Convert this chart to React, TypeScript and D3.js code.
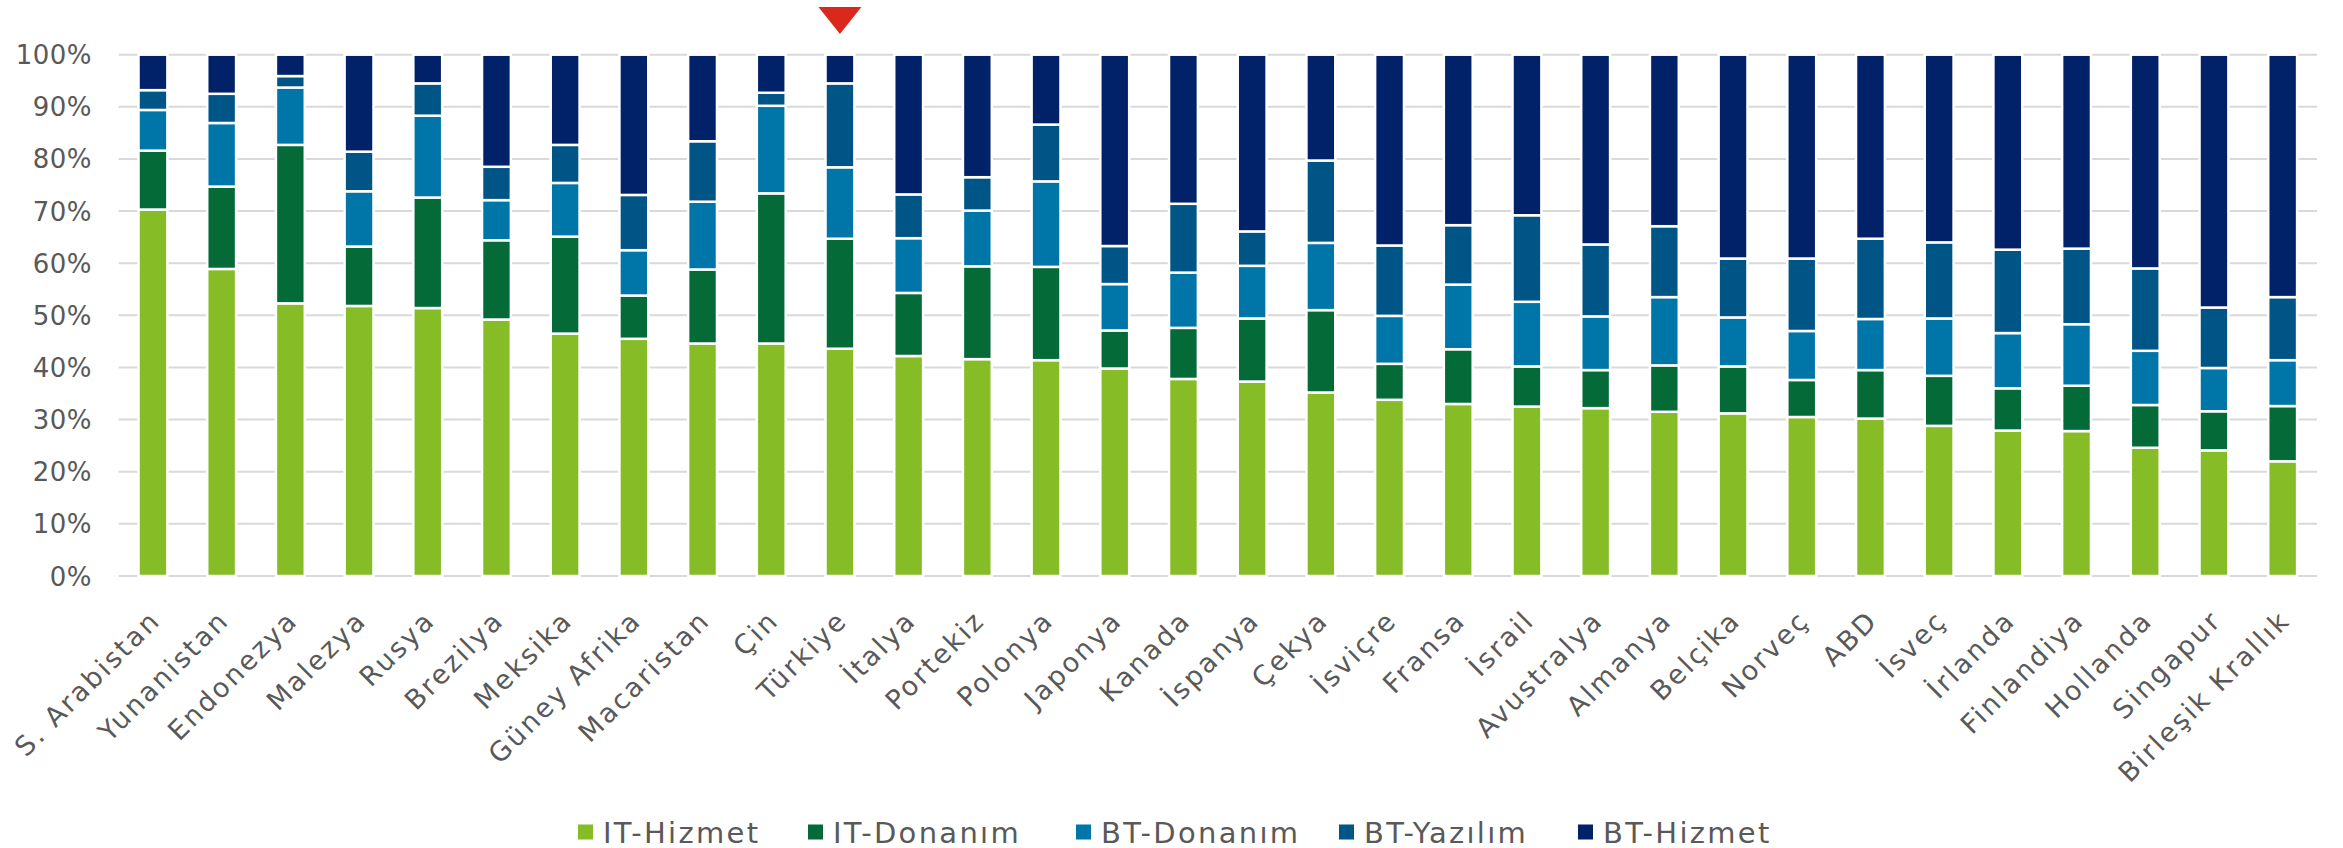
import React from "react";
import * as d3 from "d3";

// ülkeler (soldan sağa)
const countries = [
  "S. Arabistan", "Yunanistan", "Endonezya", "Malezya", "Rusya", "Brezilya",
  "Meksika", "Güney Afrika", "Macaristan", "Çin", "Türkiye", "İtalya",
  "Portekiz", "Polonya", "Japonya", "Kanada", "İspanya", "Çekya", "İsviçre",
  "Fransa", "İsrail", "Avustralya", "Almanya", "Belçika", "Norveç", "ABD",
  "İsveç", "İrlanda", "Finlandiya", "Hollanda", "Singapur", "Birleşik Krallık",
];

// segment payları (%)
const itHizmet = [70.3, 58.9, 52.3, 51.8, 51.4, 49.2, 46.5, 45.5, 44.6, 44.6, 43.6, 42.2, 41.6, 41.4, 39.8, 37.8, 37.3, 35.2, 33.8, 33.0, 32.5, 32.2, 31.5, 31.2, 30.5, 30.2, 28.8, 27.9, 27.8, 24.6, 24.1, 22.0];
const itDonanim = [11.3, 15.8, 30.4, 11.4, 21.2, 15.2, 18.6, 8.3, 14.2, 28.8, 21.1, 12.1, 17.8, 17.9, 7.3, 9.8, 12.1, 15.8, 6.9, 10.5, 7.7, 7.3, 8.9, 9.0, 7.1, 9.3, 9.6, 8.1, 8.7, 8.2, 7.5, 10.6];
const btDonanim = [7.8, 12.2, 11.0, 10.6, 15.7, 7.7, 10.3, 8.7, 13.0, 16.8, 13.7, 10.5, 10.7, 16.4, 8.9, 10.6, 10.1, 12.9, 9.2, 12.4, 12.4, 10.3, 13.1, 9.4, 9.4, 9.8, 11.0, 10.6, 11.8, 10.4, 8.3, 8.8];
const btYazilim = [3.8, 5.6, 2.2, 7.6, 6.2, 6.4, 7.3, 10.6, 11.6, 2.5, 16.1, 8.4, 6.4, 10.9, 7.3, 13.2, 6.6, 15.8, 13.5, 11.4, 16.6, 13.8, 13.6, 11.3, 13.9, 15.4, 14.6, 16.0, 14.5, 15.8, 11.6, 12.1];
const btHizmet = [6.8, 7.5, 4.1, 18.6, 5.5, 21.5, 17.3, 26.9, 16.6, 7.3, 5.5, 26.8, 23.5, 13.4, 36.7, 28.6, 33.9, 20.3, 36.6, 32.7, 30.8, 36.4, 32.9, 39.1, 39.1, 35.3, 36.0, 37.4, 37.2, 41.0, 48.5, 46.5];

const seriesNames = ["IT-Hizmet", "IT-Donanım", "BT-Donanım", "BT-Yazılım", "BT-Hizmet"];
const seriesValues = [itHizmet, itDonanim, btDonanim, btYazilim, btHizmet];
const seriesColors = ["#86bc25", "#046a38", "#0076a8", "#005587", "#012169"];
const yTicks = [0, 0.1, 0.2, 0.3, 0.4, 0.5, 0.6, 0.7, 0.8, 0.9, 1];
const highlighted = "Türkiye";

const W = 2343;
const H = 848;
const left = 118.6;
const right = 2317;
const top = 54.7;
const bottom = 576;
const font = "'DejaVu Sans', Verdana, sans-serif";
const textColor = "#595959";
// lejant kutularının x konumu
const legendX = [578, 808, 1076, 1339, 1578];

export default function App() {
  const rows = countries.map((c, i) => {
    const r: Record<string, any> = { country: c };
    seriesNames.forEach((s, j) => (r[s] = seriesValues[j][i]));
    return r;
  });
  const stacked = d3.stack().keys(seriesNames).offset(d3.stackOffsetExpand)(rows as any);

  const x = d3.scaleBand().domain(countries).range([left, right]).paddingInner(0.58).paddingOuter(0.29);
  const y = d3.scaleLinear().domain([0, 1]).range([bottom, top]);
  const fmt = d3.format(".0%");
  const hx = x(highlighted)! + x.bandwidth() / 2;

  return (
    <div style={{ position: "absolute", left: 0, top: 0 }}>
      <svg width={W} height={H} style={{ display: "block", background: "#fff" }}>
        {/* ızgara */}
        {yTicks.map((t) => (
          <g key={t}>
            <line x1={left} x2={right} y1={y(t)} y2={y(t)} stroke="#d9d9d9" strokeWidth={2} />
            <text x={92} y={y(t) + 9.5} textAnchor="end" fontFamily={font} fontSize={26}
              letterSpacing={0.5} fill={textColor}>
              {fmt(t)}
            </text>
          </g>
        ))}
        {/* çubuklar */}
        {stacked.map((layer, j) => (
          <g key={layer.key} fill={seriesColors[j]}>
            {layer.map((d: any, i: number) => (
              <rect key={countries[i]} x={x(countries[i])} width={x.bandwidth()}
                y={y(d[1])} height={y(d[0]) - y(d[1])} stroke="#fff" strokeWidth={2.5} />
            ))}
          </g>
        ))}
        {/* Türkiye işareti */}
        <path d={`M${hx - 21.5},7 L${hx + 21.5},7 L${hx},34 Z`} fill="#da291c" />
        {/* x etiketleri */}
        {countries.map((c) => {
          const cx = x(c)! + x.bandwidth() / 2 + 9;
          return (
            <text key={c} transform={`translate(${cx},622) rotate(-45)`} textAnchor="end"
              fontFamily={font} fontSize={27} letterSpacing={2.4} fill={textColor}>
              {c}
            </text>
          );
        })}
        {/* lejant */}
        {seriesNames.map((s, j) => (
          <g key={s} transform={`translate(${legendX[j]},0)`}>
            <rect x={0} y={824.5} width={15} height={15} fill={seriesColors[j]} />
            <text x={25} y={842.5} fontFamily={font} fontSize={29} letterSpacing={2.3} fill={textColor}>
              {s}
            </text>
          </g>
        ))}
      </svg>
    </div>
  );
}
